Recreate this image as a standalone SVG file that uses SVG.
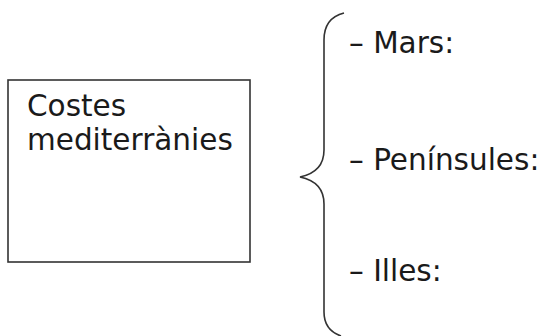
<svg xmlns="http://www.w3.org/2000/svg" width="541" height="336" viewBox="0 0 541 336">
<style>
text{font-family:"DejaVu Sans","Liberation Sans",sans-serif;font-size:29.5px;fill:#1a1a1a}
.box{fill:#fff;stroke:#333;stroke-width:1.6}
.brace{fill:none;stroke:#333;stroke-width:1.6}
</style>
<rect width="541" height="336" fill="#fff"/>
<g id="node-costes">
<rect class="box" x="8" y="80" width="242" height="182"/>
<text x="27" y="116">Costes</text>
<text x="27" y="150">mediterrànies</text>
</g>
<g id="connectors">
<path class="brace" d="M344 13 Q324 18 324 40 L324 150 Q324 172 300 177 Q324 182 324 204 L324 312 Q324 330 341 336"/>
</g>
<g id="node-mars"><text x="349" y="53">– Mars:</text></g>
<g id="node-peninsules"><text x="349" y="170">– Penínsules:</text></g>
<g id="node-illes"><text x="349" y="281">– Illes:</text></g>
</svg>
